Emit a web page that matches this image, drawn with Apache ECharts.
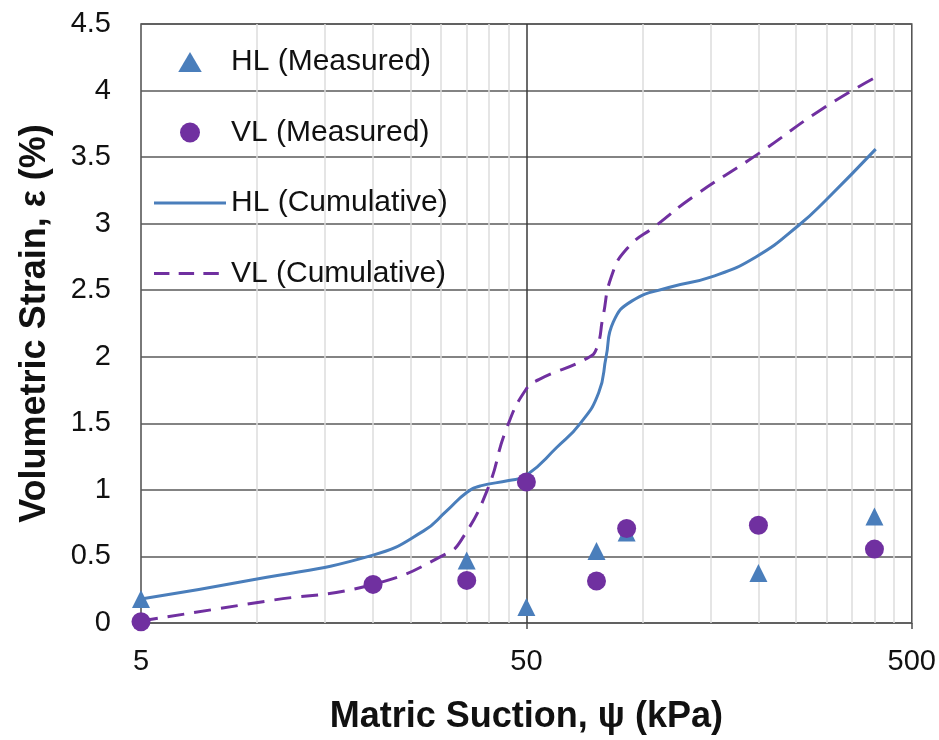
<!DOCTYPE html>
<html>
<head>
<meta charset="utf-8">
<script src="https://cdn.jsdelivr.net/npm/echarts@6/dist/echarts.min.js"></script>
<style>
  html, body { margin: 0; padding: 0; background: #fff; }
  #main { width: 939px; height: 740px; }
</style>
</head>
<body>
<div id="main"></div>
<script>
// measured points
var hlMeasuredX = [5, 35, 50, 76, 91, 200, 400];
var hlMeasuredY = [0.18, 0.47, 0.12, 0.54, 0.68, 0.375, 0.80];
var vlMeasuredX = [5, 20, 35, 50, 76, 91, 200, 400];
var vlMeasuredY = [0.01, 0.29, 0.32, 1.06, 0.315, 0.71, 0.735, 0.555];

// cumulative curves
var hlCumX = [5, 10, 20, 27, 31, 35, 38, 45, 50, 60, 69, 77, 80.5, 84, 94, 117, 151, 197, 255, 300, 403];
var hlCumY = [0.18, 0.33, 0.51, 0.69, 0.84, 0.98, 1.03, 1.07, 1.11, 1.32, 1.50, 1.73, 2.0, 2.26, 2.42, 2.52, 2.60, 2.75, 2.99, 3.18, 3.56];
var vlCumX = [5, 10.6, 20, 31, 34, 39.6, 44.4, 50, 54, 72, 76, 79, 83, 91, 109, 135, 201, 292, 403];
var vlCumY = [0.015, 0.165, 0.29, 0.52, 0.63, 1.0, 1.46, 1.76, 1.83, 1.99, 2.06, 2.30, 2.60, 2.81, 2.99, 3.2, 3.53, 3.86, 4.10];

var xTickLabels = [5, 50, 500];
var xMinorLines = [10, 15, 20, 25, 30, 35, 40, 45, 100, 150, 200, 250, 300, 350, 400, 450];
var xMajorLines = [50];

var blue = '#4a7ebb';
var purple = '#7030a0';
var font = 'Liberation Sans, Arial, sans-serif';

// legend icons (path icons keep their aspect ratio inside the 72px slot)
var triangleIcon = 'path://M10,0L20,17L0,17Z';
var solidIcon = 'path://M0,0h70v3h-70z';
var dashedIcon = 'path://M0,0h15v3h-15z M24,0h15v3h-15z M48,0h15v3h-15z M70,0h0v3h0z';

function pairs(xs, ys) {
    var out = [];
    for (var i = 0; i < xs.length; i++) {
        out.push([xs[i], ys[i]]);
    }
    return out;
}

function vLines(values) {
    var out = [];
    for (var i = 0; i < values.length; i++) {
        out.push({ xAxis: values[i] });
    }
    return out;
}

var myChart = echarts.init(document.getElementById('main'));

var option = {
    backgroundColor: '#fff',
    animation: false,
    textStyle: { fontFamily: font },
    grid: {
        left: 141, right: 26, top: 24, bottom: 116,
        show: true,
        borderColor: '#4d4d4d',
        borderWidth: 1.5
    },
    legend: {
        orient: 'vertical',
        left: 154,
        top: 47,
        padding: 0,
        itemWidth: 72,
        itemHeight: 20,
        itemGap: 40.5,
        symbolKeepAspect: true,
        textStyle: { fontSize: 30, color: '#111', fontFamily: font, lineHeight: 30 },
        data: [
            { name: 'HL (Measured)', icon: triangleIcon },
            { name: 'VL (Measured)', icon: 'circle' },
            { name: 'HL (Cumulative)', icon: solidIcon },
            { name: 'VL (Cumulative)', icon: dashedIcon }
        ]
    },
    xAxis: {
        type: 'log',
        logBase: 10,
        min: 5,
        max: 500,
        name: 'Matric Suction, ψ (kPa)',
        nameLocation: 'middle',
        nameGap: 76,
        nameTextStyle: { fontSize: 36, fontWeight: 'bold', color: '#111', fontFamily: font },
        axisLine: { show: false },
        axisTick: { show: true, customValues: xTickLabels, length: 6, lineStyle: { color: '#4d4d4d', width: 1.5 } },
        axisLabel: {
            customValues: xTickLabels,
            fontSize: 29, color: '#111', margin: 24,
            formatter: function (v) { return String(Math.round(v)); }
        },
        splitLine: { show: false },
        minorTick: { show: false },
        minorSplitLine: { show: false }
    },
    yAxis: {
        type: 'value',
        min: 0,
        max: 4.5,
        interval: 0.5,
        name: 'Volumetric Strain, ε (%)',
        nameLocation: 'middle',
        nameGap: 88,
        nameTextStyle: { fontSize: 36, fontWeight: 'bold', color: '#111', fontFamily: font },
        axisLine: { show: false },
        axisTick: { show: false },
        axisLabel: { fontSize: 29, color: '#111', margin: 30 },
        splitLine: { show: true, lineStyle: { color: '#5a5a5a', width: 1.5 } }
    },
    series: [
        {
            // 竖向网格线
            name: 'grid',
            type: 'line',
            data: [],
            silent: true,
            markLine: {
                silent: true,
                symbol: ['none', 'none'],
                z: 1,
                label: { show: false },
                animation: false,
                lineStyle: { color: '#dcdcdc', width: 1.5, type: 'solid' },
                data: vLines(xMinorLines)
            }
        },
        {
            name: 'grid50',
            type: 'line',
            data: [],
            silent: true,
            markLine: {
                silent: true,
                symbol: ['none', 'none'],
                z: 1,
                label: { show: false },
                animation: false,
                lineStyle: { color: '#3a3a3a', width: 1.5, type: 'solid' },
                data: vLines(xMajorLines)
            }
        },
        {
            name: 'HL (Cumulative)',
            type: 'line',
            smooth: 0.5,
            symbol: 'none',
            z: 3,
            color: blue,
            lineStyle: { color: blue, width: 3 },
            data: pairs(hlCumX, hlCumY)
        },
        {
            name: 'VL (Cumulative)',
            type: 'line',
            smooth: 0.5,
            symbol: 'none',
            z: 3,
            color: purple,
            lineStyle: { color: purple, width: 3, type: [17, 10] },
            data: pairs(vlCumX, vlCumY)
        },
        {
            name: 'HL (Measured)',
            type: 'scatter',
            symbol: 'triangle',
            symbolSize: 18,
            z: 4,
            itemStyle: { color: blue, opacity: 1 },
            data: pairs(hlMeasuredX, hlMeasuredY)
        },
        {
            name: 'VL (Measured)',
            type: 'scatter',
            symbol: 'circle',
            symbolSize: 19,
            z: 5,
            itemStyle: { color: purple, opacity: 1 },
            data: pairs(vlMeasuredX, vlMeasuredY)
        }
    ]
};

myChart.setOption(option);
</script>
</body>
</html>
